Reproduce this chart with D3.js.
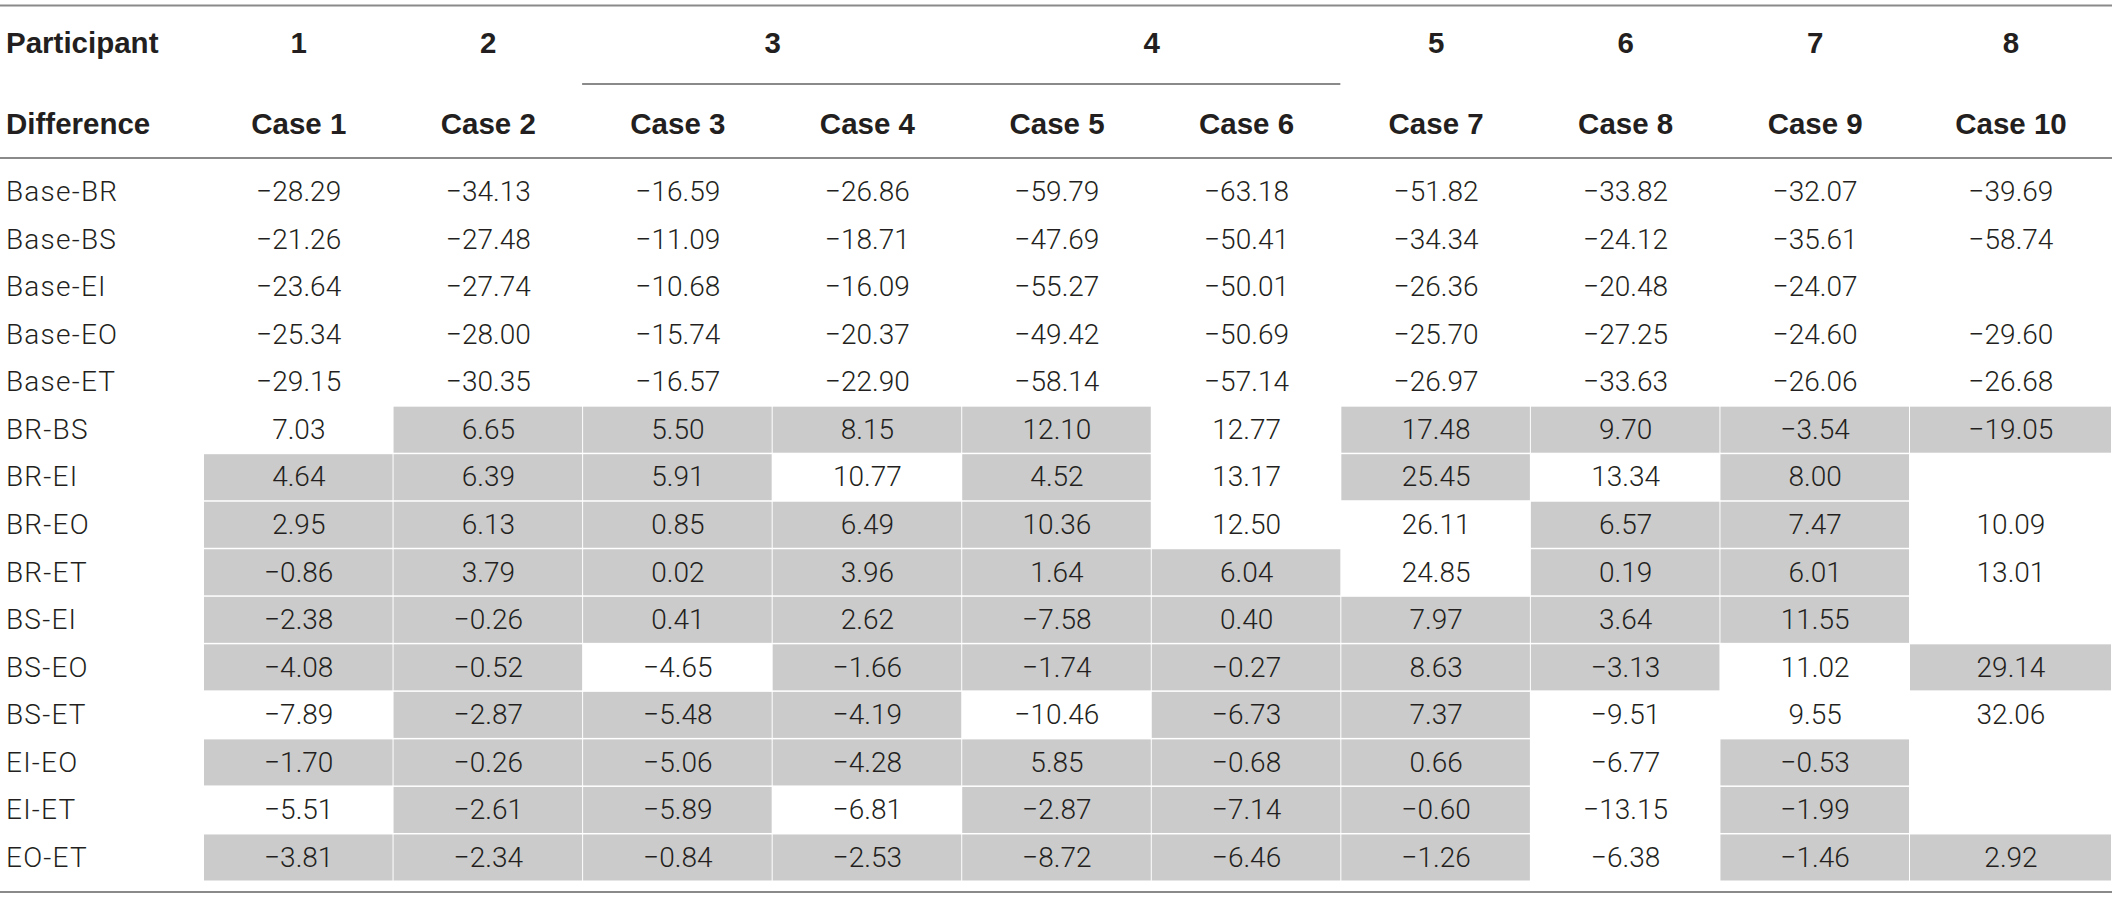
<!DOCTYPE html>
<html>
<head>
<meta charset="utf-8">
<script src="https://cdn.jsdelivr.net/npm/d3@7"></script>
<style>
  html, body { margin: 0; padding: 0; background: #fff; }
  svg { display: block; }
</style>
</head>
<body>
<svg id="table"></svg>
<script>
const width = 2121;
const height = 898;

// header texts
const participants = ["1", "2", "3", "4", "5", "6", "7", "8"];
// which participant each case belongs to
const caseParticipant = ["1", "2", "3", "3", "4", "4", "5", "6", "7", "8"];
const cases = ["Case 1", "Case 2", "Case 3", "Case 4", "Case 5",
  "Case 6", "Case 7", "Case 8", "Case 9", "Case 10"];

const differences = ["Base-BR", "Base-BS", "Base-EI", "Base-EO", "Base-ET",
  "BR-BS", "BR-EI", "BR-EO", "BR-ET", "BS-EI", "BS-EO", "BS-ET",
  "EI-EO", "EI-ET", "EO-ET"];

// one row per difference, one value per case (null = empty cell)
const values = [
  [-28.29, -34.13, -16.59, -26.86, -59.79, -63.18, -51.82, -33.82, -32.07, -39.69],
  [-21.26, -27.48, -11.09, -18.71, -47.69, -50.41, -34.34, -24.12, -35.61, -58.74],
  [-23.64, -27.74, -10.68, -16.09, -55.27, -50.01, -26.36, -20.48, -24.07, null],
  [-25.34, -28.00, -15.74, -20.37, -49.42, -50.69, -25.70, -27.25, -24.60, -29.60],
  [-29.15, -30.35, -16.57, -22.90, -58.14, -57.14, -26.97, -33.63, -26.06, -26.68],
  [7.03, 6.65, 5.50, 8.15, 12.10, 12.77, 17.48, 9.70, -3.54, -19.05],
  [4.64, 6.39, 5.91, 10.77, 4.52, 13.17, 25.45, 13.34, 8.00, null],
  [2.95, 6.13, 0.85, 6.49, 10.36, 12.50, 26.11, 6.57, 7.47, 10.09],
  [-0.86, 3.79, 0.02, 3.96, 1.64, 6.04, 24.85, 0.19, 6.01, 13.01],
  [-2.38, -0.26, 0.41, 2.62, -7.58, 0.40, 7.97, 3.64, 11.55, null],
  [-4.08, -0.52, -4.65, -1.66, -1.74, -0.27, 8.63, -3.13, 11.02, 29.14],
  [-7.89, -2.87, -5.48, -4.19, -10.46, -6.73, 7.37, -9.51, 9.55, 32.06],
  [-1.70, -0.26, -5.06, -4.28, 5.85, -0.68, 0.66, -6.77, -0.53, null],
  [-5.51, -2.61, -5.89, -6.81, -2.87, -7.14, -0.60, -13.15, -1.99, null],
  [-3.81, -2.34, -0.84, -2.53, -8.72, -6.46, -1.26, -6.38, -1.46, 2.92]
];

// 1 = grey cell
const shaded = [
  [0, 0, 0, 0, 0, 0, 0, 0, 0, 0],
  [0, 0, 0, 0, 0, 0, 0, 0, 0, 0],
  [0, 0, 0, 0, 0, 0, 0, 0, 0, 0],
  [0, 0, 0, 0, 0, 0, 0, 0, 0, 0],
  [0, 0, 0, 0, 0, 0, 0, 0, 0, 0],
  [0, 1, 1, 1, 1, 0, 1, 1, 1, 1],
  [1, 1, 1, 0, 1, 0, 1, 0, 1, 0],
  [1, 1, 1, 1, 1, 0, 0, 1, 1, 0],
  [1, 1, 1, 1, 1, 1, 0, 1, 1, 0],
  [1, 1, 1, 1, 1, 1, 1, 1, 1, 0],
  [1, 1, 0, 1, 1, 1, 1, 1, 0, 1],
  [0, 1, 1, 1, 0, 1, 1, 0, 0, 0],
  [1, 1, 1, 1, 1, 1, 1, 0, 1, 0],
  [0, 1, 1, 0, 1, 1, 1, 0, 1, 0],
  [1, 1, 1, 1, 1, 1, 1, 0, 1, 1]
];

const tableRight = 2112;
const labelX = 6;
const textColor = "#231f20";
const ruleColor = "#8a8a8a";
const cellGrey = "#cbcbcb";
const bodyFont = "Roboto, 'Liberation Sans', sans-serif";
const headFont = "'Liberation Sans', Arial, sans-serif";
const fontSize = 28;

const fmt = d3.format(".2f"); // v7 default locale uses the real minus sign

// column edges: cases 1-9 share one width, case 10 runs to the table edge
const colLeft = d3.scaleLinear().domain([0, 9]).range([204, 1910]);
const colRight = i => i < 9 ? colLeft(i + 1) : tableRight;
const colMid = i => (colLeft(i) + colRight(i)) / 2;

const y = d3.scaleBand()
  .domain(differences)
  .range([169, 882])
  .paddingInner(0);

const svg = d3.select("#table")
  .attr("width", width)
  .attr("height", height)
  .attr("viewBox", [0, 0, width, height]);

// grey cells
const cells = [];
values.forEach((row, r) => row.forEach((v, c) => {
  cells.push({ r, c, v, grey: shaded[r][c] === 1 });
}));

svg.append("g")
  .selectAll("rect")
  .data(cells.filter(d => d.grey))
  .join("rect")
  .attr("x", d => colLeft(d.c))
  .attr("y", d => y(differences[d.r]))
  .attr("width", d => colRight(d.c) - colLeft(d.c) - 1)
  .attr("height", y.bandwidth() - 1.5)
  .attr("fill", cellGrey);

// rules
const rules = [
  { y: 5.5, x1: 0, x2: tableRight },
  { y: 84, x1: colLeft(2) - 1, x2: colRight(5) - 1 },
  { y: 158, x1: 0, x2: tableRight },
  { y: 892, x1: 0, x2: tableRight }
];
svg.append("g")
  .attr("stroke", ruleColor)
  .attr("stroke-width", 2)
  .selectAll("line")
  .data(rules)
  .join("line")
  .attr("x1", d => d.x1)
  .attr("x2", d => d.x2)
  .attr("y1", d => d.y)
  .attr("y2", d => d.y);

// header row 1: participants, centred over their cases
const head = svg.append("g")
  .attr("font-family", headFont)
  .attr("font-weight", "bold")
  .attr("font-size", 29.5)
  .attr("fill", textColor)
  .attr("dominant-baseline", "central");

head.append("text").attr("x", labelX).attr("y", 42).text("Participant");
head.append("text").attr("x", labelX).attr("y", 123).text("Difference");

head.selectAll("text.participant")
  .data(participants)
  .join("text")
  .attr("class", "participant")
  .attr("text-anchor", "middle")
  .attr("y", 42)
  .attr("x", p => {
    const idx = d3.range(cases.length).filter(i => caseParticipant[i] === p);
    return (colLeft(d3.min(idx)) + colRight(d3.max(idx))) / 2;
  })
  .text(p => p);

head.selectAll("text.case")
  .data(cases)
  .join("text")
  .attr("class", "case")
  .attr("text-anchor", "middle")
  .attr("y", 123)
  .attr("x", (d, i) => colMid(i))
  .text(d => d);

// body
const body = svg.append("g")
  .attr("font-family", bodyFont)
  .attr("font-weight", 300)
  .attr("font-size", fontSize)
  .attr("fill", textColor)
  .attr("dominant-baseline", "central");

body.selectAll("text.label")
  .data(differences)
  .join("text")
  .attr("class", "label")
  .attr("x", labelX)
  .attr("y", d => y(d) + y.bandwidth() / 2 - 1)
  .attr("letter-spacing", 1.2)
  .text(d => d);

body.selectAll("text.value")
  .data(cells.filter(d => d.v !== null))
  .join("text")
  .attr("class", "value")
  .attr("text-anchor", "middle")
  .attr("x", d => colMid(d.c))
  .attr("y", d => y(differences[d.r]) + y.bandwidth() / 2 - 1)
  .text(d => fmt(d.v));
</script>
</body>
</html>
